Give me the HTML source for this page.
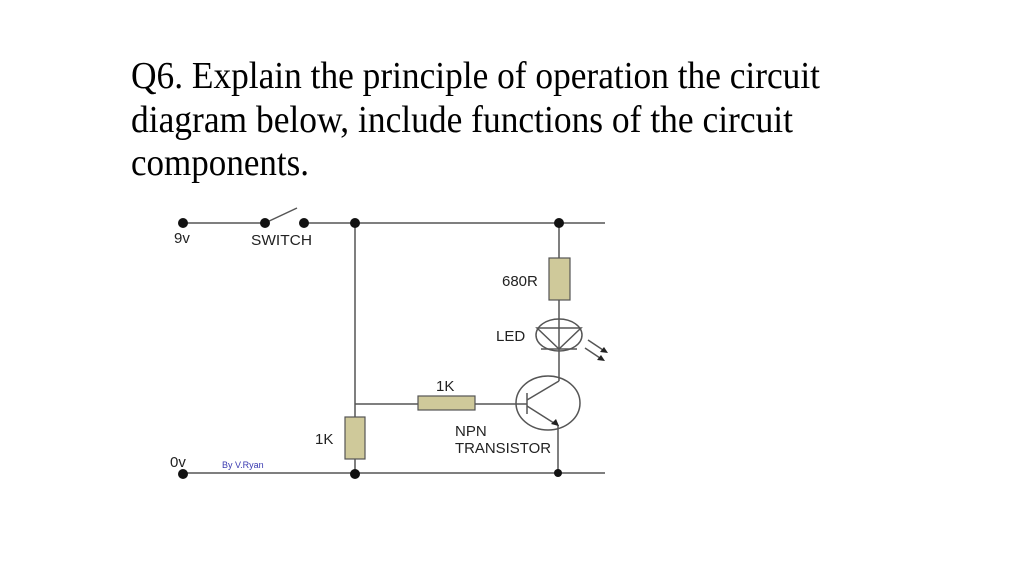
<!DOCTYPE html>
<html><head><style>
body{margin:0;background:#fff;width:1024px;height:557px;overflow:hidden}
</style></head><body>
<svg width="1024" height="557" xmlns="http://www.w3.org/2000/svg">
<g font-family="Liberation Serif, serif" font-size="38" fill="#000">
<text x="131" y="88" textLength="689" lengthAdjust="spacingAndGlyphs">Q6. Explain the principle of operation the circuit</text>
<text x="131" y="132" textLength="662" lengthAdjust="spacingAndGlyphs">diagram below, include functions of the circuit</text>
<text x="131" y="175" textLength="178" lengthAdjust="spacingAndGlyphs">components.</text>
</g>
<g stroke="#555" stroke-width="1.5" fill="none">
<line x1="183" y1="223" x2="264" y2="223"/>
<line x1="265" y1="223" x2="297" y2="208"/>
<line x1="303" y1="223" x2="605" y2="223"/>
<line x1="183" y1="473" x2="605" y2="473"/>
<line x1="355" y1="223" x2="355" y2="473"/>
<line x1="559" y1="223" x2="559" y2="381"/>
<line x1="355" y1="404" x2="527" y2="404"/>
<line x1="527" y1="393" x2="527" y2="414"/>
<line x1="527" y1="400" x2="559" y2="381"/>
<line x1="527" y1="406" x2="557" y2="425"/>
<line x1="558" y1="425" x2="558" y2="473"/>
<ellipse cx="548" cy="403" rx="32" ry="27"/>
<ellipse cx="559" cy="335" rx="23" ry="16"/>
<polygon points="537,328 581,328 559,349"/>
<line x1="541" y1="349" x2="577" y2="349"/>
<line x1="588" y1="340" x2="606" y2="352"/>
<line x1="585" y1="348" x2="603" y2="360"/>
</g>
<polygon points="608,353 600,352 604,347" fill="#222"/>
<polygon points="605,361 597,360 601,355" fill="#222"/>
<polygon points="559,426 551,424 556,419" fill="#222"/>
<g fill="#cfc99a" stroke="#555" stroke-width="1.2">
<rect x="549" y="258" width="21" height="42"/>
<rect x="418" y="396" width="57" height="14"/>
<rect x="345" y="417" width="20" height="42"/>
</g>
<g fill="#111">
<circle cx="183" cy="223" r="5"/><circle cx="265" cy="223" r="5"/><circle cx="304" cy="223" r="5"/>
<circle cx="355" cy="223" r="5"/><circle cx="559" cy="223" r="5"/>
<circle cx="183" cy="474" r="5"/><circle cx="355" cy="474" r="5"/><circle cx="558" cy="473" r="4"/>
</g>
<g font-family="Liberation Sans, sans-serif" font-size="15" fill="#222">
<text x="174" y="243">9v</text>
<text x="251" y="245" textLength="61" lengthAdjust="spacingAndGlyphs">SWITCH</text>
<text x="502" y="286">680R</text>
<text x="496" y="341">LED</text>
<text x="436" y="391">1K</text>
<text x="315" y="444">1K</text>
<text x="455" y="436">NPN</text>
<text x="455" y="453" textLength="96" lengthAdjust="spacingAndGlyphs">TRANSISTOR</text>
<text x="170" y="467">0v</text>
</g>
<text x="222" y="468" font-family="Liberation Sans, sans-serif" font-size="9" fill="#3a3ab0">By V.Ryan</text>
</svg>
</body></html>
